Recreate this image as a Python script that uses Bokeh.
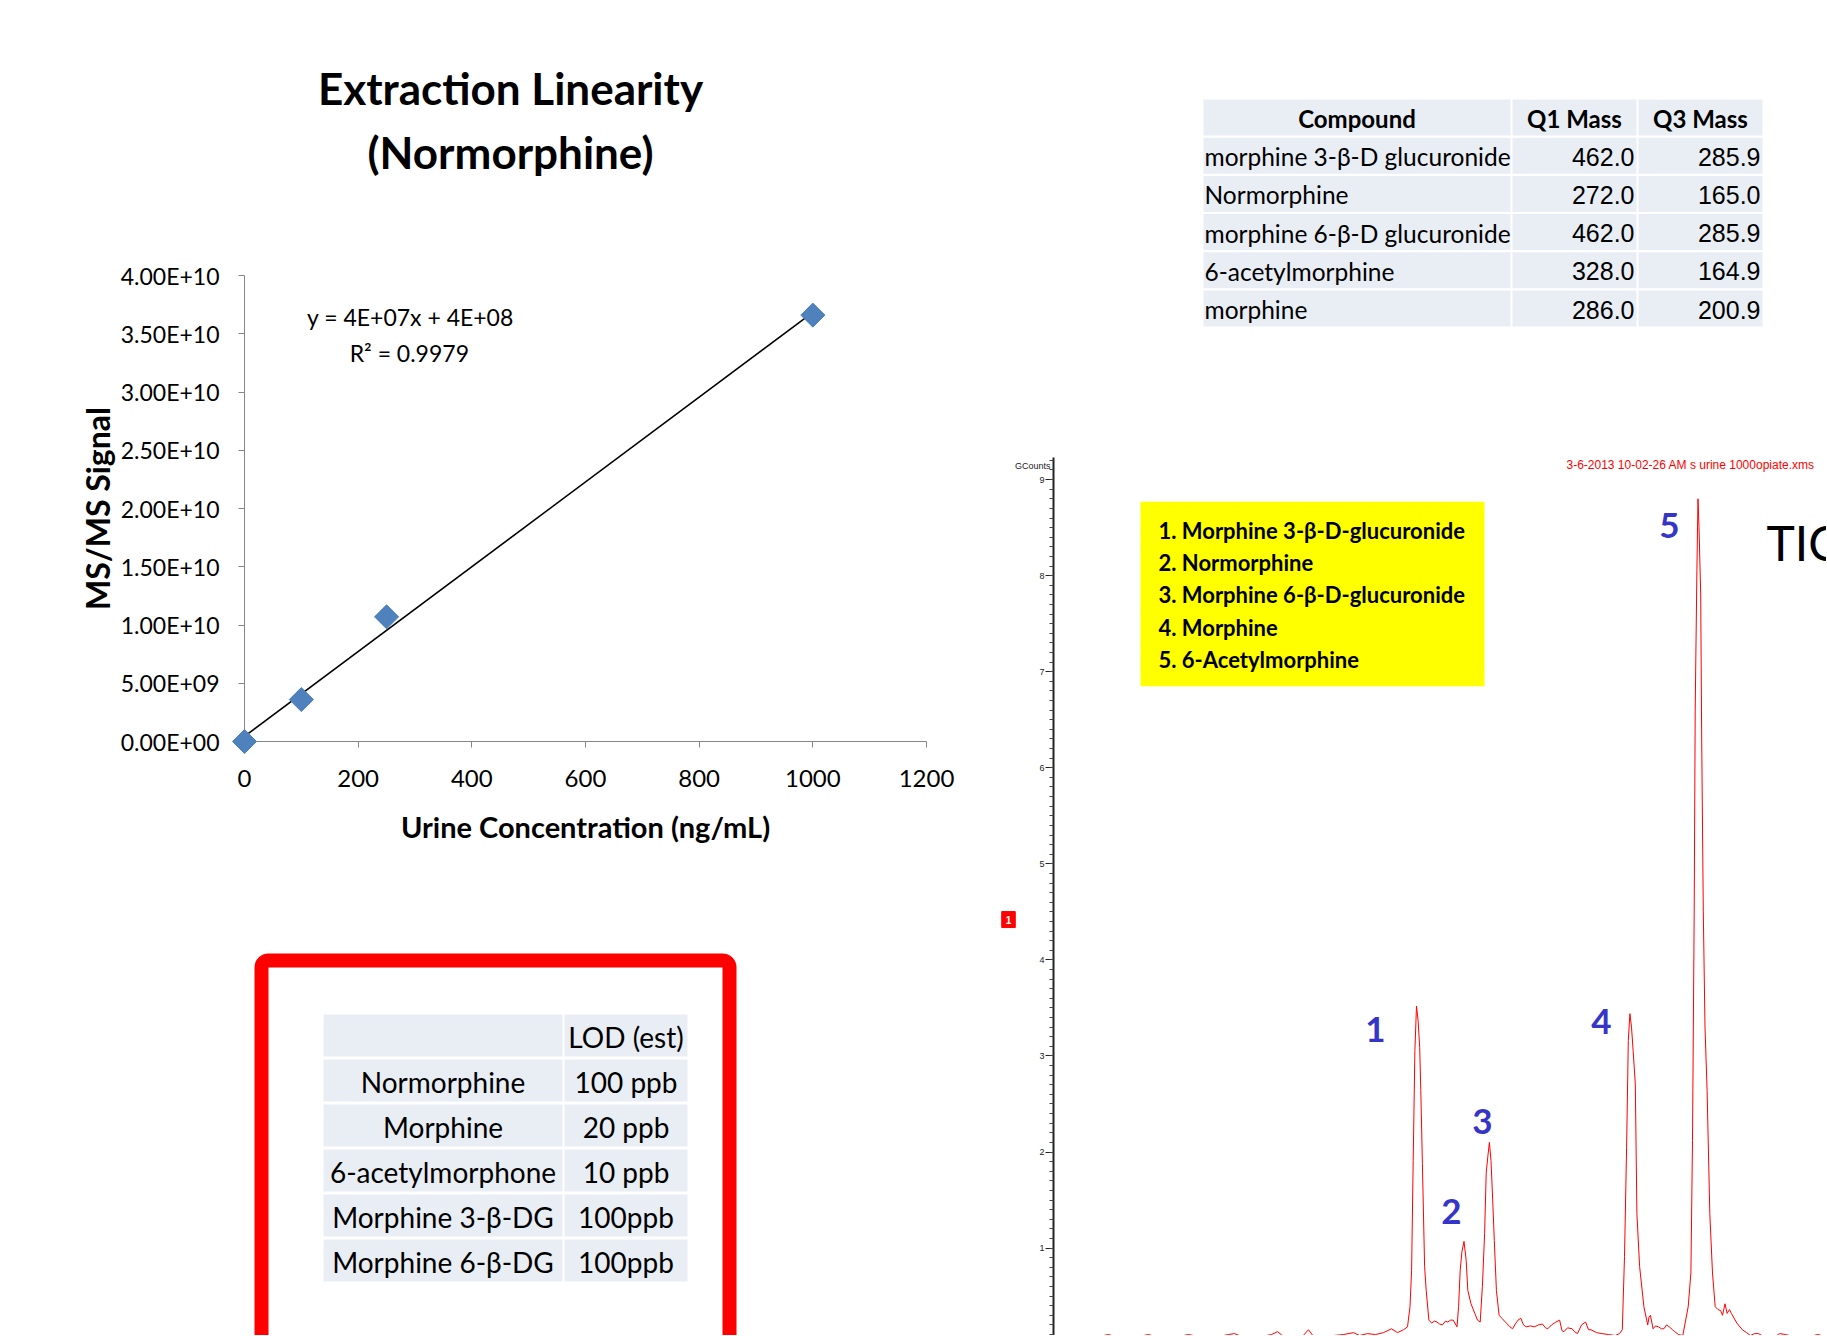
import numpy as np
from bokeh.plotting import figure
from bokeh.layouts import row, column
from bokeh.models import Range1d, FixedTicker, Label, BoxAnnotation
from bokeh.core.properties import value
from bokeh.embed import file_html
from bokeh.resources import INLINE

# ---------------- data: extraction linearity ----------------
chart_title = ["Extraction Linearity", "(Normorphine)"]
conc_ng_ml = [0, 100, 250, 1000]
msms_signal = [0.0, 3.6e9, 1.07e10, 3.66e10]
x_ticks = [0, 200, 400, 600, 800, 1000, 1200]
y_ticks = [0, 5e9, 1e10, 1.5e10, 2e10, 2.5e10, 3e10, 3.5e10, 4e10]
y_tick_labels = ["0.00E+00", "5.00E+09", "1.00E+10", "1.50E+10", "2.00E+10",
                 "2.50E+10", "3.00E+10", "3.50E+10", "4.00E+10"]
fit_equation = "y = 4E+07x + 4E+08"
fit_r2 = "R\u00b2 = 0.9979"
x_title = "Urine Concentration (ng/mL)"
y_title = "MS/MS Signal"

# ---------------- data: MRM table ----------------
mass_header = ["Compound", "Q1 Mass", "Q3 Mass"]
compounds = ["morphine 3-\u03b2-D glucuronide", "Normorphine", "morphine 6-\u03b2-D glucuronide",
             "6-acetylmorphine", "morphine"]
q1_mass = ["462.0", "272.0", "462.0", "328.0", "286.0"]
q3_mass = ["285.9", "165.0", "285.9", "164.9", "200.9"]

# ---------------- data: LOD table ----------------
lod_header = ["", "LOD (est)"]
lod_compounds = ["Normorphine", "Morphine", "6-acetylmorphone", "Morphine 3-\u03b2-DG", "Morphine 6-\u03b2-DG"]
lod_values = ["100 ppb", "20 ppb", "10 ppb", "100ppb", "100ppb"]

# ---------------- data: chromatogram (TIC) ----------------
retention_min = [
    0.05, 0.15, 0.25, 0.35, 0.45, 0.55, 0.65, 0.75, 0.85, 0.95, 1.05, 1.15, 1.25, 1.35, 1.45, 1.55,
    1.65, 1.75, 1.81, 1.88, 1.98, 2.08, 2.18, 2.24, 2.30, 2.40, 2.48, 2.55, 2.60, 2.70, 2.80, 2.90,
    3.00, 3.06, 3.14, 3.22, 3.30, 3.38, 3.44, 3.50, 3.54,
    3.565, 3.581, 3.597, 3.614, 3.630, 3.646, 3.662, 3.673, 3.689, 3.711, 3.727, 3.754, 3.781, 3.81,
    3.835, 3.86, 3.889, 3.92, 3.943, 3.97, 3.997, 4.035,
    4.051, 4.067, 4.084, 4.105, 4.127, 4.143, 4.175, 4.213, 4.240, 4.267,
    4.289, 4.311, 4.327, 4.343, 4.359, 4.375, 4.392, 4.408, 4.429, 4.456, 4.483, 4.51, 4.537, 4.565,
    4.591, 4.618, 4.645, 4.673, 4.70, 4.727, 4.77, 4.808, 4.85, 4.889, 4.92, 4.943, 4.98, 5.024,
    5.061, 5.085, 5.105, 5.14, 5.186, 5.21, 5.240, 5.28, 5.321, 5.35, 5.375, 5.43, 5.483, 5.55,
    5.618, 5.66, 5.688,
    5.710, 5.731, 5.748, 5.764, 5.780, 5.796, 5.818, 5.834, 5.861, 5.904, 5.942, 5.955, 5.969, 5.996,
    6.02, 6.050, 6.08, 6.104, 6.13, 6.158, 6.19, 6.212, 6.25, 6.293, 6.347,
    6.374, 6.390, 6.407, 6.417, 6.434, 6.445, 6.455, 6.472, 6.482, 6.498, 6.515, 6.536, 6.563, 6.590,
    6.617, 6.645, 6.671, 6.69, 6.715, 6.736, 6.76, 6.779, 6.833, 6.888, 6.93, 6.969, 7.01, 7.050,
    7.10, 7.158, 7.22, 7.26, 7.320, 7.40, 7.482, 7.56, 7.644, 7.72]
tic_gcounts = [
    0.07, 0.09, 0.07, 0.09, 0.08, 0.10, 0.07, 0.09, 0.08, 0.10, 0.07, 0.09, 0.08, 0.10, 0.08, 0.09,
    0.08, 0.10, 0.11, 0.08, 0.09, 0.08, 0.10, 0.13, 0.08, 0.09, 0.07, 0.15, 0.08, 0.07, 0.09, 0.10,
    0.12, 0.09, 0.11, 0.10, 0.12, 0.16, 0.12, 0.15, 0.18,
    0.39, 0.77, 1.91, 3.06, 3.52, 3.37, 3.09, 2.64, 1.88, 0.81, 0.56, 0.25, 0.22, 0.24,
    0.23, 0.21, 0.20, 0.24, 0.23, 0.25, 0.25, 0.18,
    0.39, 0.77, 0.96, 1.07, 0.87, 0.56, 0.42, 0.32, 0.25, 0.23,
    0.60, 1.15, 1.78, 1.95, 2.10, 1.91, 1.50, 1.08, 0.56, 0.30, 0.27, 0.24, 0.21, 0.18,
    0.16, 0.21, 0.25, 0.27, 0.20, 0.18, 0.19, 0.18, 0.20, 0.21, 0.17, 0.16, 0.20, 0.23,
    0.25, 0.14, 0.13, 0.17, 0.16, 0.13, 0.11, 0.20, 0.23, 0.15, 0.15, 0.12, 0.11, 0.10,
    0.09, 0.11, 0.15,
    0.91, 2.05, 3.16, 3.44, 3.30, 3.06, 2.71, 1.36, 0.81, 0.39, 0.20, 0.28, 0.30, 0.16,
    0.19, 0.18, 0.16, 0.16, 0.20, 0.18, 0.15, 0.13, 0.10, 0.09, 0.39,
    0.74, 2.12, 4.50, 6.60, 8.05, 8.80, 8.50, 7.81, 6.29, 4.50, 3.30, 2.64, 1.36, 0.74,
    0.39, 0.36, 0.35, 0.30, 0.42, 0.32, 0.36, 0.32, 0.22, 0.15, 0.12, 0.09, 0.11, 0.11,
    0.08, 0.09, 0.08, 0.11, 0.10, 0.08, 0.09, 0.08, 0.10, 0.08]
peak_ids = ["1", "2", "3", "4", "5"]
peak_label_rt = [3.22, 3.98, 4.29, 5.48, 6.16]
peak_label_gcounts = [3.28, 1.38, 2.32, 3.36, 8.52]
legend_items = ["1. Morphine 3-\u03b2-D-glucuronide", "2. Normorphine", "3. Morphine 6-\u03b2-D-glucuronide",
                "4. Morphine", "5. 6-Acetylmorphine"]
chrom_y_ticks = [1, 2, 3, 4, 5, 6, 7, 8, 9]
chrom_file_text = "3-6-2013 10-02-26 AM s urine 1000opiate.xms"
chrom_unit = "GCounts"
trace_name = "TIC"
event_marker = ["1"]

# ---------------- styles ----------------
CAL = "Lato"
ARIAL = "'Liberation Sans', Arial, sans-serif"
CELL = "#E9EDF4"
RED = "#FF0000"
BLUE_LBL = "#3535C8"

# left column: frame of the linearity chart spans page x 244..926
LEFT_W, LB, RB = 968, 244, 42
RIGHT_W, CH_LB = 858, 85


def blank_canvas(w, h, y0, left=0, right=0, x0=0):
    """Canvas whose data units are page pixels (y grows downward)."""
    p = figure(width=w, height=h, x_range=Range1d(x0 + left, x0 + w - right),
               y_range=Range1d(y0 + h, y0), x_axis_type=None, y_axis_type=None,
               output_backend="svg", toolbar_location=None, min_border=0,
               min_border_left=left, min_border_right=right)
    p.outline_line_color = None
    return p


# ================= Title =================
ttl = blank_canvas(LEFT_W, 200, 0, LB, RB)
ttl.text(x=[510, 510], y=[87, 151], text=chart_title, text_align="center", text_baseline="middle",
         text_font=value(CAL), text_font_style="bold", text_font_size="44px", text_color="black")

# ================= Linearity chart =================
lin = figure(width=LEFT_W, height=678, x_range=Range1d(0, 1200), y_range=Range1d(0, 4e10),
             output_backend="svg", toolbar_location=None,
             min_border_left=LB, min_border_right=RB, min_border_top=75, min_border_bottom=137)
lin.outline_line_color = None
lin.grid.visible = False
lin.xaxis.ticker = FixedTicker(ticks=x_ticks)
lin.yaxis.ticker = FixedTicker(ticks=y_ticks)
lin.yaxis.major_label_overrides = {int(t): lab for t, lab in zip(y_ticks, y_tick_labels)}
lin.xaxis.axis_label = x_title
lin.yaxis.axis_label = y_title
for ax in (lin.xaxis[0], lin.yaxis[0]):
    ax.axis_line_color = "#868686"
    ax.major_tick_line_color = "#868686"
    ax.minor_tick_line_color = None
    ax.major_tick_out = 6
    ax.major_tick_in = 0
    ax.major_label_text_font = CAL
    ax.major_label_text_color = "black"
    ax.axis_label_text_font = CAL
    ax.axis_label_text_font_style = "bold"
    ax.axis_label_text_color = "black"
lin.xaxis.major_label_text_font_size = "24px"
lin.yaxis.major_label_text_font_size = "23px"
lin.xaxis.major_label_standoff = 22
lin.yaxis.major_label_standoff = 19
lin.xaxis.axis_label_text_font_size = "29px"
lin.yaxis.axis_label_text_font_size = "32px"
lin.xaxis.axis_label_standoff = 19
lin.yaxis.axis_label_standoff = 1

coef = np.polyfit(conc_ng_ml, msms_signal, 1)
fit_x = [min(conc_ng_ml), max(conc_ng_ml)]
lin.line(fit_x, list(np.polyval(coef, fit_x)), line_color="black", line_width=1.5)
lin.scatter(conc_ng_ml, msms_signal, marker="square", size=17, angle=np.pi / 4,
            fill_color="#4F81BD", line_color="#4A7EBB", level="overlay")

lin.add_layout(Label(x=292, y=3.648e10, text=fit_equation, text_align="center", text_baseline="middle",
                     text_font=CAL, text_font_size="23px", text_color="black"))
lin.add_layout(Label(x=290, y=3.339e10, text=fit_r2, text_align="center", text_baseline="middle",
                     text_font=CAL, text_font_size="23px", text_color="black"))

# ================= LOD table in red frame =================
lod = blank_canvas(LEFT_W, 457, 878, LB, RB)
lod.add_layout(BoxAnnotation(left=261, right=729, top=960, bottom=1420, fill_alpha=0,
                             line_color=RED, line_alpha=1.0, line_width=14, border_radius=7))
lod_cols = [(323, 562), (564, 687)]
lod_top, lod_pitch, lod_h = 1014, 45, 42
lod_rows = [lod_header] + [[c, v] for c, v in zip(lod_compounds, lod_values)]
L, R, T, B, TX, TY, TT = [], [], [], [], [], [], []
for i, rw in enumerate(lod_rows):
    top = lod_top + i * lod_pitch
    for (c0, c1), txt in zip(lod_cols, rw):
        L.append(c0); R.append(c1); T.append(top); B.append(top + lod_h)
        TX.append((c0 + c1) / 2); TY.append(top + lod_h / 2 + 1); TT.append(txt)
lod.quad(left=L, right=R, top=T, bottom=B, fill_color=CELL, line_color=None)
lod.text(x=TX, y=TY, text=TT, text_align="center", text_baseline="middle",
         text_font=value(CAL), text_font_size="28px", text_color="black")

# ================= MRM mass table =================
mt = blank_canvas(RIGHT_W, 400, 0, CH_LB, 0, x0=LEFT_W)
m_cols = [(1203, 1510), (1512, 1636), (1638, 1762)]
m_top, m_pitch, m_h = 99, 38.2, 36
mL, mR, mT, mB = [], [], [], []
for i in range(len(compounds) + 1):
    top = m_top + i * m_pitch
    for c0, c1 in m_cols:
        mL.append(c0); mR.append(c1); mT.append(top); mB.append(top + m_h)
mt.quad(left=mL, right=mR, top=mT, bottom=mB, fill_color=CELL, line_color=None)
mt.text(x=[(c0 + c1) / 2 for c0, c1 in m_cols], y=[m_top + m_h / 2 + 1] * 3, text=mass_header,
        text_align="center", text_baseline="middle", text_font=value(CAL),
        text_font_style="bold", text_font_size="24px", text_color="black")
row_y = [m_top + (i + 1) * m_pitch + m_h / 2 + 1 for i in range(len(compounds))]
mt.text(x=[m_cols[0][0] + 1] * len(compounds), y=row_y, text=compounds, text_align="left",
        text_baseline="middle", text_font=value(CAL), text_font_size="24.5px", text_color="black")
mt.text(x=[m_cols[1][1] - 2] * len(q1_mass), y=row_y, text=q1_mass, text_align="right",
        text_baseline="middle", text_font=value(ARIAL), text_font_size="25px", text_color="black")
mt.text(x=[m_cols[2][1] - 2] * len(q3_mass), y=row_y, text=q3_mass, text_align="right",
        text_baseline="middle", text_font=value(ARIAL), text_font_size="25px", text_color="black")

# ================= Chromatogram =================
ch = figure(width=RIGHT_W, height=935, x_range=Range1d(0, 7.73), y_range=Range1d(0.09, 9.23),
            output_backend="svg", toolbar_location=None, x_axis_location=None,
            min_border_left=CH_LB, min_border_right=0, min_border_top=57, min_border_bottom=0)
ch.outline_line_color = None
ch.grid.visible = False
yax = ch.yaxis[0]
yax.ticker = FixedTicker(ticks=chrom_y_ticks, minor_ticks=[k / 10 for k in range(1, 93)])
yax.axis_line_color = "#222222"
yax.axis_line_width = 2
yax.major_tick_line_color = "#222222"
yax.minor_tick_line_color = "#444444"
yax.major_tick_out = 8
yax.major_tick_in = 0
yax.minor_tick_out = 4
yax.minor_tick_in = 0
yax.major_label_text_font = ARIAL
yax.major_label_text_font_size = "9px"
yax.major_label_text_color = "#222222"
yax.major_label_standoff = 1

ch.line(retention_min, tic_gcounts, line_color=RED, line_width=1)

leg_left, leg_right, leg_top, leg_bottom = 0.87, 4.31, 8.77, 6.85
ch.quad(left=[leg_left], right=[leg_right], top=[leg_top], bottom=[leg_bottom],
        fill_color="#FFFF00", line_color=None)
ch.text(x=[leg_left + 0.18] * len(legend_items), y=[8.47 - i * 0.3356 for i in range(len(legend_items))],
        text=legend_items, text_align="left", text_baseline="middle", text_font=value(CAL),
        text_font_style="bold", text_font_size="22px", text_color="black")
ch.text(x=peak_label_rt, y=peak_label_gcounts, text=peak_ids, text_align="center",
        text_baseline="middle", text_font=value(CAL), text_font_style="bold",
        text_font_size="35px", text_color=BLUE_LBL)
ch.add_layout(Label(x=7.13, y=8.35, text=trace_name, text_align="left", text_baseline="middle",
                    text_font=CAL, text_font_size="48px", text_color="black"))
ch.add_layout(Label(x=5.13, y=9.15, text=chrom_file_text, text_align="left", text_baseline="middle",
                    text_font=ARIAL, text_font_size="12px", text_color=RED))
# items left of the axis (outside the frame) are drawn at overlay level so they are not clipped
ch.text(x=[-0.03], y=[9.14], text=[chrom_unit], text_align="right", text_baseline="middle",
        text_font=value(ARIAL), text_font_size="9px", text_color="#222222", level="overlay")
ch.text(x=[-0.45], y=[4.42], text=event_marker, text_align="center", text_baseline="middle",
        text_font=value(ARIAL), text_font_size="10px", text_font_style="bold", text_color="white",
        background_fill_color=RED, border_line_color=RED, padding=4, level="overlay")

page = row(column(ttl, lin, lod), column(mt, ch))
open("out.html", "w").write(file_html(page, INLINE))
